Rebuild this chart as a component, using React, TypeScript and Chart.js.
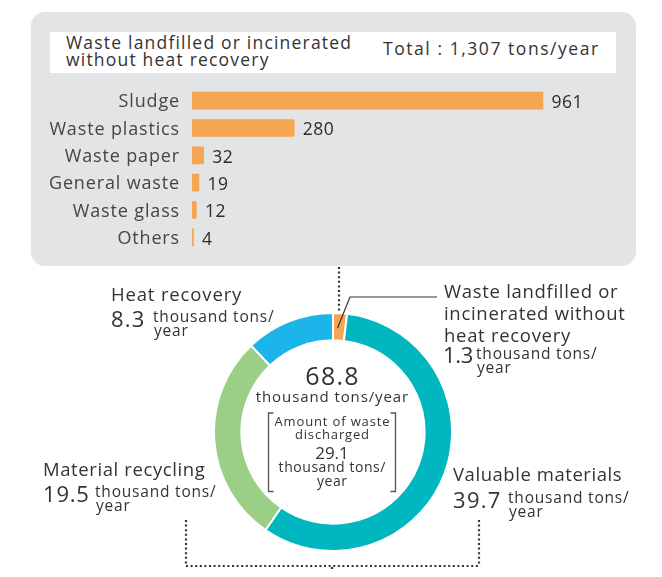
import React, { useEffect, useRef } from "react";
import { Chart, registerables } from "chart.js";

Chart.register(...registerables);

const barCategories = ["Sludge", "Waste plastics", "Waste paper", "General waste", "Waste glass", "Others"];
const barValues = [961, 280, 32, 19, 12, 4];

const donutLabels = ["Waste landfilled or incinerated without heat recovery", "Valuable materials", "Material recycling", "Heat recovery"];
const donutValues = [1.3, 39.7, 19.5, 8.3];
const donutColors = ["#F6A552", "#00B6BF", "#9BCF88", "#1BB5E9"];

const FONT = "'Open Sans', 'Noto Sans', sans-serif";
const TEXT = "#333333";

type TP = {
  x: number;
  base: number;
  size: number;
  ls?: number;
  lh?: number;
  center?: boolean;
  color?: string;
  children: React.ReactNode;
};

// x = left edge (or centre when center=true); base = baseline of first line
function T({ x, base, size, ls = 0, lh, center, color = TEXT, children }: TP) {
  const L = lh ?? size * 1.2;
  const top = base - L / 2 - 0.388 * size;
  const style: React.CSSProperties = {
    position: "absolute",
    top,
    whiteSpace: "nowrap",
    fontFamily: FONT,
    fontSize: size,
    lineHeight: `${L}px`,
    letterSpacing: ls,
    color,
  };
  if (center) {
    style.left = x - 150;
    style.width = 300;
    style.textAlign = "center";
    style.paddingLeft = ls;
    style.boxSizing = "border-box";
  } else {
    style.left = x;
  }
  return <div style={style}>{children}</div>;
}

function BarChart() {
  const ref = useRef<HTMLCanvasElement>(null);
  useEffect(() => {
    const valuePlugin = {
      id: "valueLabels",
      beforeDraw(chart: any) {
        chart.ctx.letterSpacing = "0.85px";
      },
      afterDatasetsDraw(chart: any) {
        const ctx = chart.ctx;
        const meta = chart.getDatasetMeta(0);
        ctx.save();
        ctx.letterSpacing = "0.5px";
        ctx.font = `17.5px ${FONT}`;
        ctx.fillStyle = "#2b2b2b";
        ctx.textBaseline = "alphabetic";
        ctx.textAlign = "left";
        meta.data.forEach((bar: any, i: number) => {
          ctx.fillText(String(barValues[i]), bar.x + 8.5, bar.y + 7.3);
        });
        ctx.restore();
      },
    };
    const chart = new Chart(ref.current!, {
      type: "bar",
      data: {
        labels: barCategories,
        datasets: [
          {
            data: barValues,
            backgroundColor: "#F6A552",
            barThickness: 17,
          },
        ],
      },
      options: {
        indexAxis: "y",
        animation: false,
        responsive: false,
        maintainAspectRatio: false,
        layout: { padding: { left: 0, right: 62.8, top: 0, bottom: 0 } },
        plugins: { legend: { display: false }, tooltip: { enabled: false } },
        scales: {
          x: { display: false, min: 0, max: 1000 },
          y: {
            grid: { display: false, drawTicks: false },
            border: { display: false },
            afterFit(scale: any) {
              scale.width = 152;
              scale.paddingTop = 0;
              scale.paddingBottom = 0;
            },
            ticks: {
              padding: 12,
              labelOffset: 1.5,
              color: "#454545",
              font: { family: FONT, size: 18 },
            },
          },
        },
      },
      plugins: [valuePlugin],
    });
    return () => chart.destroy();
  }, []);
  return <canvas ref={ref} width={580} height={164} style={{ position: "absolute", left: 40, top: 87 }} />;
}

function DonutChart() {
  const ref = useRef<HTMLCanvasElement>(null);
  useEffect(() => {
    const chart = new Chart(ref.current!, {
      type: "doughnut",
      data: {
        labels: donutLabels,
        datasets: [
          {
            data: donutValues,
            backgroundColor: donutColors,
            borderColor: "#ffffff",
            borderWidth: 2,
          },
        ],
      },
      options: {
        animation: false,
        responsive: false,
        maintainAspectRatio: false,
        cutout: "77%",
        rotation: 0,
        plugins: { legend: { display: false }, tooltip: { enabled: false } },
      },
    });
    return () => chart.destroy();
  }, []);
  return <canvas ref={ref} width={240} height={240} style={{ position: "absolute", left: 213, top: 312 }} />;
}

function Amount({ x, base, num, ls, tx }: { x: number; base: number; num: string; ls: number; tx: number }) {
  return (
    <>
      <T x={x} base={base} size={22} ls={ls}>{num}</T>
      <T x={tx} base={base - 4} size={15.5} ls={0.8}>thousand tons/</T>
      <T x={tx + 1} base={base + 10} size={15.5} ls={0.8}>year</T>
    </>
  );
}

export default function App() {
  return (
    <div style={{ position: "relative", width: 662, height: 577, margin: -8, overflow: "hidden", background: "#ffffff" }}>
      <div style={{ position: "absolute", left: 31, top: 12, width: 605, height: 254, background: "#E3E4E5", borderRadius: 14 }} />
      <div style={{ position: "absolute", left: 50, top: 32, width: 566, height: 41, background: "#ffffff" }} />
      <T x={66} base={49.5} size={17.5} ls={1.2} lh={17.5}>
        Waste landfilled or incinerated
        <br />
        without heat recovery
      </T>
      <T x={383} base={55.5} size={17.5} ls={1.55}>Total : 1,307 tons/year</T>
      <BarChart />

      <svg width={662} height={577} style={{ position: "absolute", left: 0, top: 0 }}>
        <g stroke="#333" strokeWidth={2.2} strokeDasharray="2 2.6" fill="none">
          <line x1={339} y1={267} x2={339} y2={313} />
          <line x1={186} y1={520} x2={186} y2={566} />
          <line x1={186} y1={566} x2={479} y2={566} />
          <line x1={479} y1={520} x2={479} y2={566} />
          <line x1={332} y1={567} x2={332} y2={577} />
        </g>
      </svg>

      <DonutChart />

      <svg width={662} height={577} style={{ position: "absolute", left: 0, top: 0 }}>
        <polyline points="337.5,328 350,297 437,297" stroke="#333" strokeWidth={1.2} fill="none" />
        <path d="M273.5,413 H268.5 V491.5 H273.5" stroke="#555" strokeWidth={1.3} fill="none" />
        <path d="M390.5,413 H395.5 V491.5 H390.5" stroke="#555" strokeWidth={1.3} fill="none" />
      </svg>

      <T x={111} base={301.7} size={18.5} ls={0.85}>Heat recovery</T>
      <Amount x={111} base={326.7} num="8.3" ls={1.2} tx={153} />

      <T x={444} base={298.3} size={18.5} ls={0.7} lh={21.7}>
        Waste landfilled or
        <br />
        incinerated without
        <br />
        heat recovery
      </T>
      <Amount x={443} base={363} num="1.3" ls={-0.3} tx={476} />

      <T x={43} base={476.7} size={18.5} ls={0.6}>Material recycling</T>
      <Amount x={43} base={501.7} num="19.5" ls={0.8} tx={95} />

      <T x={453} base={481.7} size={18.5} ls={0.55}>Valuable materials</T>
      <Amount x={453} base={507.5} num="39.7" ls={1.3} tx={508} />

      <T x={332} base={385} size={25} ls={1.3} center>68.8</T>
      <T x={332} base={401.7} size={15} ls={0.9} center>thousand tons/year</T>
      <T x={332} base={426.7} size={13} ls={0.85} lh={13.3} center>
        Amount of waste
        <br />
        discharged
      </T>
      <T x={332} base={460} size={17} center>29.1</T>
      <T x={332} base={472.7} size={14} ls={0.55} lh={14} center>
        thousand tons/
        <br />
        year
      </T>
    </div>
  );
}
